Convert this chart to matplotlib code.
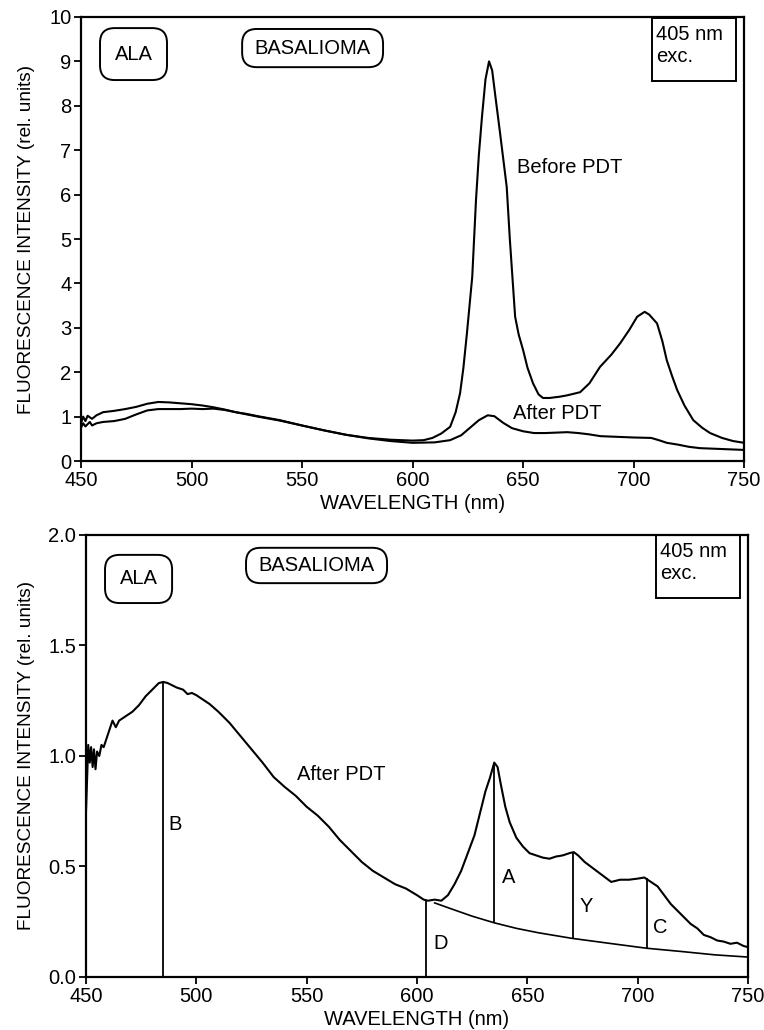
import matplotlib.pyplot as plt
from matplotlib.patches import FancyBboxPatch, Rectangle

plt.rcParams['font.family'] = ['Liberation Sans', 'DejaVu Sans']

# ---- top panel: spectra before / after PDT (405 nm excitation) ----
top_wl_before = [450, 451, 452, 454, 455, 457, 460, 465, 470, 475, 480, 485, 490, 495,
                 500, 505, 510, 515, 520, 525, 530, 540, 550, 560, 570, 580, 590, 600,
                 605, 609, 613, 617, 619.5, 621.5, 623, 624.6, 627, 628.7, 630, 631.4,
                 633, 634.6, 636, 637.5, 639.6, 642.6, 644, 646.4, 648, 650, 652, 654.5,
                 657, 659, 662, 666.7, 670, 675.8, 680, 684.8, 690, 693.9, 698, 701.6,
                 705, 707, 710.6, 713, 715, 717.5, 719.7, 723, 727, 731, 734.6, 740,
                 745, 750]
top_before = [0.75, 0.85, 0.78, 0.88, 0.80, 0.85, 0.88, 0.90, 0.95, 1.05, 1.14, 1.17,
              1.17, 1.17, 1.18, 1.17, 1.18, 1.15, 1.10, 1.06, 1.01, 0.92, 0.80, 0.69,
              0.59, 0.52, 0.48, 0.46, 0.47, 0.52, 0.62, 0.77, 1.10, 1.53, 2.10, 2.88,
              4.15, 5.88, 6.90, 7.75, 8.60, 9.00, 8.80, 8.20, 7.38, 6.17, 5.00, 3.25,
              2.85, 2.50, 2.10, 1.75, 1.50, 1.42, 1.42, 1.45, 1.48, 1.55, 1.75, 2.12,
              2.40, 2.65, 2.95, 3.25, 3.36, 3.30, 3.10, 2.70, 2.27, 1.90, 1.60, 1.25,
              0.92, 0.75, 0.63, 0.52, 0.45, 0.41]

top_wl_after = [450, 451, 452, 453, 455, 457, 460, 465, 470, 475, 480, 485, 490, 495,
                500, 505, 510, 515, 520, 525, 530, 540, 550, 560, 570, 580, 590, 600,
                610, 617, 622, 626, 630, 634, 637, 641, 645, 650, 655, 660, 665, 670,
                675, 680, 685, 690, 700, 708, 712, 715, 720, 725, 730, 740, 750]
top_after = [0.85, 1.00, 0.90, 1.02, 0.95, 1.03, 1.10, 1.13, 1.17, 1.22, 1.29, 1.33,
             1.32, 1.30, 1.28, 1.25, 1.21, 1.16, 1.10, 1.05, 1.00, 0.91, 0.80, 0.69,
             0.59, 0.51, 0.45, 0.41, 0.42, 0.47, 0.58, 0.75, 0.92, 1.03, 1.01, 0.86,
             0.74, 0.67, 0.63, 0.63, 0.64, 0.65, 0.63, 0.60, 0.56, 0.55, 0.53, 0.52,
             0.46, 0.41, 0.37, 0.32, 0.29, 0.27, 0.25]

# ---- bottom panel: after PDT with background and band markers ----
wl_after = [450, 450.5, 451, 451.7, 452.3, 453, 453.6, 454.3, 455, 456, 457, 458, 460,
            462, 463.5, 465, 468, 471, 474, 477, 480, 483, 485, 487, 489, 491, 494, 496,
            498, 500, 503, 506, 510, 515, 520, 525, 530, 535, 540, 545, 550, 555, 560,
            565, 570, 575, 580, 585, 590, 595, 600, 603, 605, 608, 611, 614, 617, 620,
            623, 626, 629, 631, 633, 635, 636.5, 638, 640, 642, 645, 648, 651, 654, 657,
            660, 663, 666, 669, 671, 673, 676, 680, 684, 688, 692, 696, 700, 703, 706,
            709, 712, 715, 718, 721, 724, 727, 730, 733, 736, 739, 742, 745, 748, 750]
after = [0.75, 0.90, 1.05, 0.97, 1.04, 0.95, 1.03, 0.94, 1.02, 1.00, 1.05, 1.04, 1.10,
         1.16, 1.13, 1.16, 1.18, 1.20, 1.23, 1.27, 1.30, 1.33, 1.335, 1.33, 1.32, 1.31,
         1.30, 1.28, 1.285, 1.275, 1.255, 1.235, 1.20, 1.15, 1.09, 1.03, 0.97, 0.905,
         0.86, 0.82, 0.77, 0.73, 0.68, 0.62, 0.57, 0.52, 0.48, 0.45, 0.42, 0.40, 0.37,
         0.35, 0.345, 0.35, 0.345, 0.37, 0.42, 0.48, 0.56, 0.64, 0.76, 0.84, 0.90, 0.97,
         0.95, 0.87, 0.77, 0.70, 0.63, 0.59, 0.56, 0.55, 0.54, 0.535, 0.545, 0.55, 0.56,
         0.565, 0.55, 0.52, 0.49, 0.46, 0.43, 0.44, 0.44, 0.445, 0.45, 0.43, 0.41, 0.37,
         0.33, 0.30, 0.27, 0.24, 0.22, 0.19, 0.18, 0.165, 0.16, 0.15, 0.155, 0.14, 0.135]

wl_base = [608, 615, 625, 635, 645, 655, 670, 685, 704, 720, 735, 750]
base = [0.335, 0.31, 0.275, 0.245, 0.22, 0.20, 0.175, 0.155, 0.13, 0.115, 0.10, 0.09]

mark_names = ['B', 'D', 'A', 'Y', 'C']
mark_wl = [485, 604, 635, 670.5, 704]
mark_lo = [0, 0, 0.245, 0.175, 0.13]
mark_hi = [1.335, 0.345, 0.97, 0.565, 0.45]
mark_text_x = [487.2, 607.2, 638.5, 673.8, 706.9]
mark_text_y = [0.69, 0.15, 0.45, 0.317, 0.226]

fig = plt.figure(figsize=(7.64, 10.30), dpi=100)
ax1 = fig.add_axes([0.106, 0.5524, 0.868, 0.4311])
ax2 = fig.add_axes([0.1126, 0.0515, 0.8665, 0.4291])

lw_curve = 1.5
fs = 14.5


def style_axes(ax, ymax, yticks, ylabels):
    ax.set_xlim(450, 750)
    ax.set_ylim(0, ymax)
    ax.set_xticks([450, 500, 550, 600, 650, 700, 750])
    ax.set_yticks(yticks)
    ax.set_yticklabels(ylabels)
    for s in ax.spines.values():
        s.set_linewidth(1.6)
    ax.tick_params(direction='out', length=5, width=1.3, labelsize=fs, pad=2)
    ax.set_xlabel('WAVELENGTH (nm)', fontsize=14.5, labelpad=3)
    ax.set_ylabel('FLUORESCENCE INTENSITY (rel. units)', fontsize=13.7, labelpad=10)


def add_boxes(ax, ala, bas, exc):
    for (x0, x1, y0, y1), label in [(ala, 'ALA'), (bas, 'BASALIOMA')]:
        box = FancyBboxPatch((x0, y0), x1 - x0, y1 - y0,
                             boxstyle='round,pad=0,rounding_size=0.022',
                             transform=ax.transAxes, fill=False, lw=1.4,
                             mutation_aspect=1.5, clip_on=False)
        ax.add_patch(box)
        ax.text((x0 + x1) / 2, (y0 + y1) / 2, label, transform=ax.transAxes,
                ha='center', va='center', fontsize=fs)
    x0, x1, y0, y1 = exc
    ax.add_patch(Rectangle((x0, y0), x1 - x0, y1 - y0, transform=ax.transAxes,
                           fill=False, lw=1.4, clip_on=False))
    ax.text(x0 + 0.006, y1 - 0.015, '405 nm\nexc.', transform=ax.transAxes,
            ha='left', va='top', fontsize=fs, linespacing=1.25)


# top panel
ax1.plot(top_wl_before, top_before, color='black', lw=lw_curve)
ax1.plot(top_wl_after, top_after, color='black', lw=lw_curve)
style_axes(ax1, 10, range(0, 11), [str(v) for v in range(0, 11)])
ax1.text(647.3, 6.62, 'Before PDT', fontsize=fs, va='center')
ax1.text(645.5, 1.06, 'After PDT', fontsize=fs, va='center')
add_boxes(ax1, (0.0287, 0.1297, 0.858, 0.975), (0.243, 0.4555, 0.887, 0.973),
          (0.861, 0.988, 0.856, 0.998))

# bottom panel
ax2.plot(wl_after, after, color='black', lw=lw_curve)
ax2.plot(wl_base, base, color='black', lw=1.2)
ax2.vlines(mark_wl, mark_lo, mark_hi, color='black', lw=1.3)
for name, tx, ty in zip(mark_names, mark_text_x, mark_text_y):
    ax2.text(tx, ty, name, fontsize=fs, va='center')
ax2.text(545.6, 0.914, 'After PDT', fontsize=fs, va='center')
style_axes(ax2, 2.0, [0, 0.5, 1.0, 1.5, 2.0], ['0.0', '0.5', '1.0', '1.5', '2.0'])
add_boxes(ax2, (0.0287, 0.130, 0.846, 0.955), (0.2417, 0.4547, 0.891, 0.971),
          (0.861, 0.988, 0.857, 1.0))

fig.savefig('out.png', dpi=100)
